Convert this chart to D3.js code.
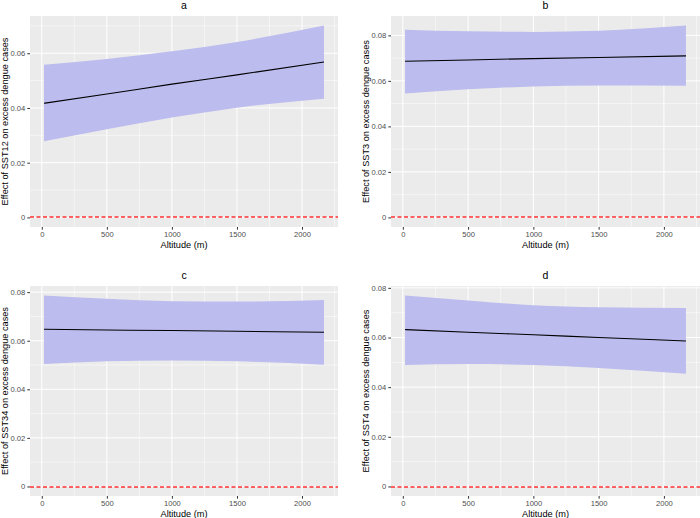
<!DOCTYPE html>
<html>
<head>
<meta charset="utf-8">
<script src="https://d3js.org/d3.v7.min.js"></script>
<style>
  body { margin: 0; background: #fff; }
  svg text { font-family: "Liberation Sans", Arial, sans-serif; }
  .tick-label { fill: #4d4d4d; font-size: 7.6px; }
  .axis-title { fill: #000; font-size: 9.2px; }
  .panel-title { fill: #000; font-size: 10.5px; }
</style>
</head>
<body>
<div id="chart"></div>
<script>
// altitude points (m) at which the fitted effect was read
var altitude = [17, 500, 1000, 1500, 2169];

var titles = ["a", "b", "c", "d"];
var yTitles = [
  "Effect of SST12 on excess dengue cases",
  "Effect of SST3 on excess dengue cases",
  "Effect of SST34 on excess dengue cases",
  "Effect of SST4 on excess dengue cases"
];

var fitA   = [0.0417, 0.0451, 0.0487, 0.0521, 0.0568];
var lowerA = [0.0278, 0.0322, 0.0365, 0.0401, 0.0434];
var upperA = [0.0558, 0.0579, 0.0607, 0.0641, 0.0701];

var fitB   = [0.0686, 0.0692, 0.0698, 0.0703, 0.0710];
var lowerB = [0.0545, 0.0563, 0.0575, 0.0580, 0.0579];
var upperB = [0.0825, 0.0818, 0.0815, 0.0820, 0.0843];

var fitC   = [0.0647, 0.0644, 0.0642, 0.0639, 0.0635];
var lowerC = [0.0504, 0.0515, 0.0519, 0.0515, 0.0501];
var upperC = [0.0786, 0.0773, 0.0763, 0.0761, 0.0768];

var fitD   = [0.0632, 0.0621, 0.0611, 0.0600, 0.0586];
var lowerD = [0.0489, 0.0493, 0.0489, 0.0477, 0.0454];
var upperD = [0.0769, 0.0749, 0.0730, 0.0722, 0.0719];

var xTicks = [0, 500, 1000, 1500, 2000];
var yTicks = [0, 0.02, 0.04, 0.06, 0.08];
var refLine = 0;

var fits = [fitA, fitB, fitC, fitD];
var lowers = [lowerA, lowerB, lowerC, lowerD];
var uppers = [upperA, upperB, upperC, upperD];

var W = 700, H = 518;
// panel rectangles (left, top, right, bottom)
var boxes = [
  [30, 16, 338, 227],
  [391, 16, 700, 227],
  [30, 286, 338, 496],
  [391, 286, 700, 496]
];

var svg = d3.select("#chart").append("svg")
    .attr("width", W)
    .attr("height", H);

function expand(lo, hi) {
  var pad = (hi - lo) * 0.05;
  return [lo - pad, hi + pad];
}

function fmtY(v) { return v === 0 ? "0" : v.toFixed(2); }

titles.forEach(function(t, k) {
  var b = boxes[k];
  var fit = fits[k], lo = lowers[k], up = uppers[k];

  var x = d3.scaleLinear()
      .domain(expand(d3.min(altitude), d3.max(altitude)))
      .range([b[0], b[2]]);
  var yMin = Math.min(refLine, d3.min(lo)), yMax = Math.max(refLine, d3.max(up));
  var y = d3.scaleLinear()
      .domain(expand(yMin, yMax))
      .range([b[3], b[1]]);

  var g = svg.append("g");

  g.append("rect")
      .attr("x", b[0]).attr("y", b[1])
      .attr("width", b[2] - b[0]).attr("height", b[3] - b[1])
      .attr("fill", "#ebebeb");

  // minor grid
  var xd = x.domain(), yd = y.domain();
  var xMinor = [-250, 250, 750, 1250, 1750, 2250].filter(function(v) { return v > xd[0] && v < xd[1]; });
  var yMinor = [-0.01, 0.01, 0.03, 0.05, 0.07, 0.09].filter(function(v) { return v > yd[0] && v < yd[1]; });
  g.selectAll(".xminor").data(xMinor).enter().append("line")
      .attr("x1", function(d) { return x(d); }).attr("x2", function(d) { return x(d); })
      .attr("y1", b[1]).attr("y2", b[3])
      .attr("stroke", "#fff").attr("stroke-width", 0.5);
  g.selectAll(".yminor").data(yMinor).enter().append("line")
      .attr("y1", function(d) { return y(d); }).attr("y2", function(d) { return y(d); })
      .attr("x1", b[0]).attr("x2", b[2])
      .attr("stroke", "#fff").attr("stroke-width", 0.5);

  var yT = yTicks.filter(function(v) { return v >= yd[0] && v <= yd[1]; });

  // major grid
  g.selectAll(".xmajor").data(xTicks).enter().append("line")
      .attr("x1", function(d) { return x(d); }).attr("x2", function(d) { return x(d); })
      .attr("y1", b[1]).attr("y2", b[3])
      .attr("stroke", "#fff").attr("stroke-width", 1);
  g.selectAll(".ymajor").data(yT).enter().append("line")
      .attr("y1", function(d) { return y(d); }).attr("y2", function(d) { return y(d); })
      .attr("x1", b[0]).attr("x2", b[2])
      .attr("stroke", "#fff").attr("stroke-width", 1);

  var rows = altitude.map(function(a, i) { return { a: a, f: fit[i], lo: lo[i], up: up[i] }; });

  g.append("path")
      .datum(rows)
      .attr("fill", "#bcbcef")
      .attr("d", d3.area()
        .x(function(d) { return x(d.a); })
        .y0(function(d) { return y(d.lo); })
        .y1(function(d) { return y(d.up); })
        .curve(d3.curveMonotoneX));

  g.append("path")
      .datum(rows)
      .attr("fill", "none")
      .attr("stroke", "#000")
      .attr("stroke-width", 1.1)
      .attr("d", d3.line()
        .x(function(d) { return x(d.a); })
        .y(function(d) { return y(d.f); })
        .curve(d3.curveMonotoneX));

  // red reference line, kept on a two-pixel row pair so the red survives compression
  var yRef = Math.floor(y(refLine) / 2) * 2 + 1;
  g.append("line")
      .attr("x1", b[0]).attr("x2", b[2])
      .attr("y1", yRef).attr("y2", yRef)
      .attr("stroke", "#ff3030")
      .attr("stroke-width", 1.7)
      .attr("stroke-dasharray", "4,2.5");

  // axes
  var xAxis = g.append("g")
      .attr("transform", "translate(0," + b[3] + ")")
      .call(d3.axisBottom(x).tickValues(xTicks).tickFormat(d3.format("d")).tickSize(2.7).tickPadding(2));
  var yAxis = g.append("g")
      .attr("transform", "translate(" + b[0] + ",0)")
      .call(d3.axisLeft(y).tickValues(yT).tickFormat(fmtY).tickSize(2.7).tickPadding(2));
  [xAxis, yAxis].forEach(function(ax) {
    ax.attr("font-family", null).attr("font-size", null);
    ax.select(".domain").remove();
    ax.selectAll(".tick line").attr("stroke", "#333");
    ax.selectAll(".tick text").attr("class", "tick-label").attr("fill", "#4d4d4d");
  });

  g.append("text")
      .attr("class", "panel-title")
      .attr("x", (b[0] + b[2]) / 2)
      .attr("y", b[1] - 7)
      .attr("text-anchor", "middle")
      .text(t);

  g.append("text")
      .attr("class", "axis-title")
      .attr("x", (b[0] + b[2]) / 2)
      .attr("y", b[3] + 21)
      .attr("text-anchor", "middle")
      .text("Altitude (m)");

  g.append("text")
      .attr("class", "axis-title")
      .attr("transform", "translate(" + (b[0] - 22.5) + "," + ((b[1] + b[3]) / 2) + ") rotate(-90)")
      .attr("text-anchor", "middle")
      .text(yTitles[k]);
});
</script>
</body>
</html>
